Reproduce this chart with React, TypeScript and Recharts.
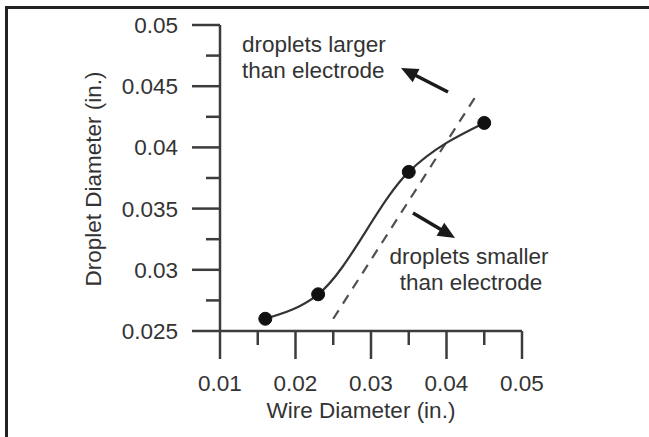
import React from "react";
import {
  Customized,
  Line,
  LineChart,
  ReferenceLine,
  XAxis,
  YAxis,
} from "recharts";

// measured droplet size vs. wire size
const wireDiameter = [0.016, 0.023, 0.035, 0.045];
const dropletDiameter = [0.026, 0.028, 0.038, 0.042];

// droplet == electrode boundary (dashed)
const boundaryX = [0.025, 0.044];
const boundaryY = [0.026, 0.0443];

const xTicks = [0.01, 0.015, 0.02, 0.025, 0.03, 0.035, 0.04, 0.045, 0.05];
const xMajor = [0.01, 0.02, 0.03, 0.04, 0.05];
const yTicks = [0.025, 0.0275, 0.03, 0.0325, 0.035, 0.0375, 0.04, 0.0425, 0.045, 0.0475, 0.05];
const yMajor = [0.025, 0.03, 0.035, 0.04, 0.045, 0.05];

const measured = wireDiameter.map((x, i) => ({ x, y: dropletDiameter[i] }));
const boundary = boundaryX.map((x, i) => ({ x, y: boundaryY[i] }));

const FONT = "'Liberation Sans', Arial, sans-serif";
const FS = 22.5;
const TEXT = "#333";
const AXIS = "#3c3c3c";
const MAJOR = 28;
const MINOR = 14;

const XTick = (props: any) => {
  const { x, y, payload } = props;
  const major = xMajor.includes(payload.value);
  return (
    <g>
      <line x1={x} y1={y} x2={x} y2={y + (major ? MAJOR : MINOR)} stroke={AXIS} strokeWidth={2.5} />
      {major && (
        <text x={x} y={y + 60} textAnchor="middle" fill={TEXT} fontSize={FS} fontFamily={FONT}>
          {String(payload.value)}
        </text>
      )}
    </g>
  );
};

const YTick = (props: any) => {
  const { x, y, payload } = props;
  const major = yMajor.includes(payload.value);
  return (
    <g>
      <line x1={x} y1={y} x2={x - (major ? MAJOR : MINOR)} y2={y} stroke={AXIS} strokeWidth={2.5} />
      {major && (
        <text x={x - 42} y={y + 8} textAnchor="end" fill={TEXT} fontSize={FS} fontFamily={FONT}>
          {String(payload.value)}
        </text>
      )}
    </g>
  );
};

// straight shaft with a filled triangular head at (x2, y2)
const Arrow = (props: any) => {
  const { x1, y1, x2, y2 } = props;
  const ang = Math.atan2(y2 - y1, x2 - x1);
  const len = 17;
  const half = 7.5;
  const bx = x2 - len * Math.cos(ang);
  const by = y2 - len * Math.sin(ang);
  const px = -Math.sin(ang) * half;
  const py = Math.cos(ang) * half;
  return (
    <g>
      <line x1={x1} y1={y1} x2={bx + 2 * Math.cos(ang)} y2={by + 2 * Math.sin(ang)} stroke="#1a1a1a" strokeWidth={3.5} />
      <polygon points={`${x2},${y2} ${bx + px},${by + py} ${bx - px},${by - py}`} fill="#1a1a1a" />
    </g>
  );
};

const Annotations = () => (
  <g fill={TEXT} fontSize={FS} fontFamily={FONT}>
    <text x={242} y={52}>droplets larger</text>
    <text x={242} y={78}>than electrode</text>
    <text x={469} y={264} textAnchor="middle">droplets smaller</text>
    <text x={471} y={290} textAnchor="middle">than electrode</text>
    <text x={361} y={418} textAnchor="middle">Wire Diameter (in.)</text>
    <text x={101} y={179} textAnchor="middle" transform="rotate(-90 101 179)">
      Droplet Diameter (in.)
    </text>
  </g>
);

export default function App() {
  return (
    <div style={{ position: "absolute", left: 0, top: 0, width: 649, height: 437, background: "#fff" }}>
      <div
        style={{
          position: "absolute",
          left: 5,
          top: 6,
          right: 0,
          bottom: 0,
          borderTop: "3px solid #222",
          borderLeft: "3px solid #222",
        }}
      />
      <div style={{ position: "absolute", left: 0, top: 0 }}>
        <LineChart width={649} height={437} margin={{ top: 25, right: 127, bottom: 76, left: 160 }}>
          <XAxis
            dataKey="x"
            type="number"
            domain={[0.01, 0.05]}
            ticks={xTicks}
            interval={0}
            height={30}
            tickSize={0}
            tickMargin={0}
            tickLine={false}
            tick={<XTick />}
            axisLine={{ stroke: AXIS, strokeWidth: 2.5 }}
            allowDataOverflow
          />
          <YAxis
            dataKey="y"
            type="number"
            domain={[0.025, 0.05]}
            ticks={yTicks}
            interval={0}
            width={60}
            tickSize={0}
            tickMargin={0}
            tickLine={false}
            tick={<YTick />}
            axisLine={{ stroke: AXIS, strokeWidth: 2.5 }}
            allowDataOverflow
          />
          <Line
            data={boundary}
            dataKey="y"
            type="linear"
            stroke="#505050"
            strokeWidth={2.2}
            strokeDasharray="10 8"
            dot={false}
            isAnimationActive={false}
          />
          <Line
            data={measured}
            dataKey="y"
            type="monotone"
            stroke="#333"
            strokeWidth={2.2}
            dot={{ r: 6.5, fill: "#111", stroke: "#111", strokeWidth: 1 }}
            isAnimationActive={false}
          />
          <ReferenceLine
            segment={[
              { x: 0.0402, y: 0.04453 },
              { x: 0.03397, y: 0.04649 },
            ]}
            shape={Arrow}
          />
          <ReferenceLine
            segment={[
              { x: 0.03556, y: 0.03464 },
              { x: 0.04113, y: 0.0326 },
            ]}
            shape={Arrow}
          />
          <Customized component={Annotations} />
        </LineChart>
      </div>
    </div>
  );
}
